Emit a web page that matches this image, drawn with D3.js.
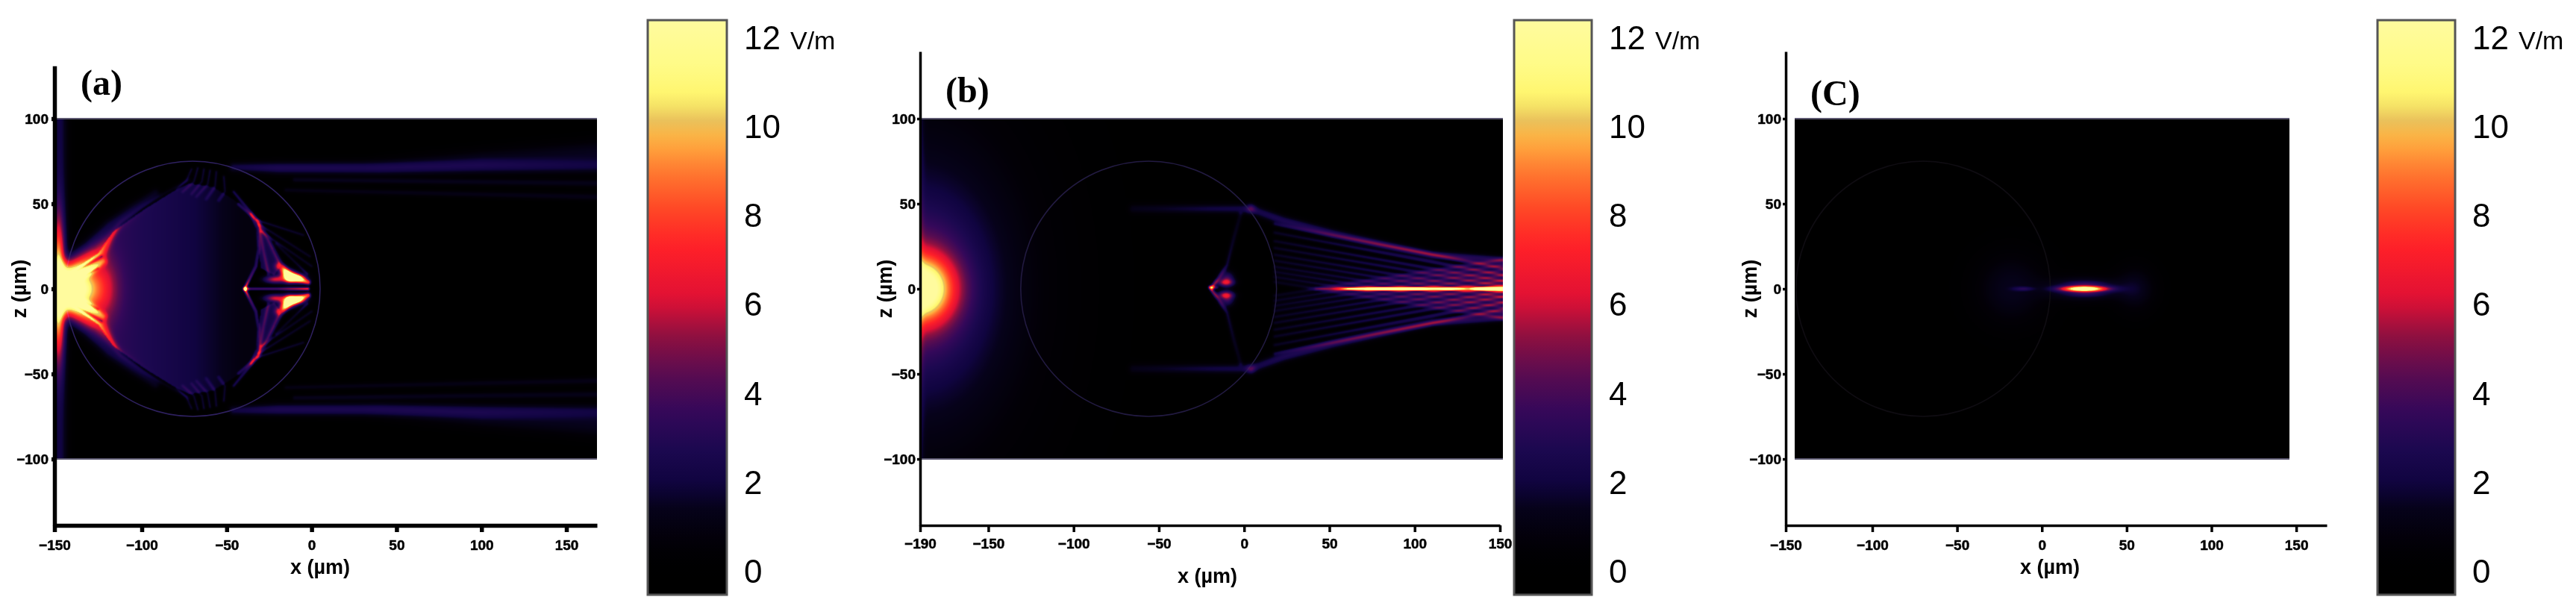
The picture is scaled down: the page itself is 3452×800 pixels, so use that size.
<!DOCTYPE html>
<html>
<head>
<meta charset="utf-8">
<script src="https://cdn.jsdelivr.net/npm/d3@7/dist/d3.min.js"></script>
<style>
  html, body { margin: 0; padding: 0; background: #fff; }
  #stage { position: relative; width: 3452px; height: 800px; overflow: hidden; }
  #stage canvas, #stage svg { position: absolute; left: 0; top: 0; }
  text { font-family: "Liberation Sans", Arial, sans-serif; fill: #000; }
</style>
</head>
<body>
<div id="stage"></div>
<script>
// Colour scale of the field magnitude, V/m
const colourValues = [0, 0.6, 1.4, 2, 2.75, 3.6, 4.45, 5.3, 6.1, 7.3, 8.1, 9, 9.7, 10.2, 10.6, 11.4, 12.4];
const colourStops = ["#000000", "#020006", "#06021a", "#100440", "#1c0850", "#35085a", "#5a0c50", "#901040",
  "#e01035", "#ff2028", "#ff4525", "#ff7a30", "#ffb040", "#e6c460", "#fff56a", "#fffb88", "#fffb9e"];
const colourTicks = [0, 2, 4, 6, 8, 10, 12];

const zTicks = [-100, -50, 0, 50, 100];
const xTicksA = [-150, -100, -50, 0, 50, 100, 150];
const xTicksB = [-190, -150, -100, -50, 0, 50, 100, 150];
const xTicksC = [-150, -100, -50, 0, 50, 100, 150];

// Blobs: [x, z, value, sigma x, sigma z]. Off-axis blobs are repeated at -z.
const blobsA = [
  [-148, 0, 11, 2.6, 26], [-139, 0, 10, 6.5, 8], [-126, 0, 4.4, 8, 13],
  [-13, 7, 4, 5, 2.6], [-22, 5.5, 5.5, 4.5, 1.6], [-9, 6.5, 6, 4, 1.4]
];
const blobsB = [
  [-190, 0, 9.5, 13, 13], [-190, 0, 3.5, 22, 30], [-190, 0, 2.2, 45, 70],
  [-11, 3.6, 4.5, 3.5, 1.5], [-10, -6, 3.6, 3, 3]
];
const blobsC = [
  [25, 0, 13, 9, 1.1], [25, 0, 2.7, 14, 4.5], [26, 3.2, 1.2, 7, 0.8],
  [-11, 0, 2.2, 4, 0.7], [-18, 0, 1.4, 14, 14], [55, 0, 1.4, 8, 9]
];

// Polylines on the axis: each point is [x, z, value, sigma]
const axisLinesA = [
  [[-147, 100, 2.1, 3], [-147, -100, 2.1, 3]],
  [[-39, 0, 10, 0.7], [-36, 0, 5, 0.5], [-20, 0, 5, 0.5], [-2, 0, 8, 0.6]]
];
const axisLinesB = [
  [[-190, 100, 1.2, 1.5], [-190, -100, 1.2, 1.5]],
  [[-20, 0.8, 8, 0.7], [-16, 0.8, 3, 0.6]],
  [[42, 0, 1.5, 0.6], [50, 0, 4, 0.6], [60, 0, 9, 0.6], [72, 0, 14, 0.6], [95, 0, 14, 0.6], [122, 0, 11, 0.6], [132, 0, 8.5, 0.6], [142, 0, 16, 0.7], [152, 0, 16, 0.7]]
];
const axisLinesC = [];

// Polylines in the upper half, repeated at -z
const linesA = [
  // bright wedge next to the focus
  [[-145, 6, 6.5, 3], [-135, 13, 6.5, 3.2], [-125, 21, 5, 3], [-118, 31, 3.2, 1.7], [-112, 39, 1.6, 1.1], [-100, 48, 1.2, 0.9], [-85, 57, 1, 0.9], [-72, 64, 1, 0.9]],
  [[-143, 3, 4, 1.4], [-130, 10, 4, 1.5], [-122, 16, 3, 1.4]],
  [[-143, 14, 3, 3], [-130, 24, 2.4, 3.2], [-118, 37, 2.1, 3], [-105, 47, 1.8, 2.5], [-92, 56, 1.5, 2]],
  [[-143, 7, -4, 0.5], [-123, 19, -4, 0.6]],
  [[-140, 4, -3, 0.4], [-125, 12, -3, 0.4]],
  // fringes below the top of the sphere
  [[-63.4, 70.3, 2.2, 0.55], [-64.6, 63, 2, 0.55], [-70.7, 55.7, 1.2, 0.55]],
  [[-59.8, 69.6, 2.2, 0.55], [-61.2, 61.5, 2, 0.55], [-67.8, 54.2, 1.2, 0.55]],
  [[-56.1, 68.8, 2.2, 0.55], [-56.9, 60, 2, 0.55], [-62, 52.8, 1.2, 0.55]],
  [[-67, 71, 2.2, 0.55], [-69.3, 63, 2, 0.55], [-75.9, 57, 1.2, 0.55]],
  [[-51.7, 65.9, 2.2, 0.55], [-51, 57.1, 2, 0.55], [-54.7, 52, 1.2, 0.55]],
  [[-70.7, 70.3, 2.1, 0.55], [-73.7, 63.7, 1.9, 0.55], [-79.5, 58.6, 1.1, 0.55]],
  // caustics on the far side of the sphere
  [[-45.9, 57, 2.5, 0.7], [-32.7, 41, 3.2, 0.8], [-25.4, 29.4, 2.6, 0.9], [-18.1, 14.7, 3, 1.1], [-12.3, 6.7, 6, 1.4]],
  [[-43, 49.8, 2.4, 0.6], [-31.3, 39.6, 2.6, 0.7], [-28.3, 22, 2, 0.7], [-25.4, 8.9, 2.6, 0.7]],
  [[-39.3, 0.1, 9, 0.5], [-36.4, 6, 4, 0.6], [-32.7, 13.3, 2.6, 0.7], [-31, 23.5, 2.4, 0.7], [-31.6, 35.2, 2.4, 0.7], [-35.7, 44, 2.4, 0.7]],
  [[-32, 40.3, 2.1, 0.6], [-4.9, 31.6, 1.9, 0.6]],
  [[-31, 38, 2, 0.6], [-1, 19, 1.8, 0.6]],
  [[-29.8, 33.8, 1.9, 0.6], [0, 13.3, 1.8, 0.6]],
  [[-21, 26.4, 1.6, 0.6], [-2.6, 8.9, 2, 0.6]],
  [[-19.6, 13.3, 4, 1.6], [-13, 7.4, 10, 2.2], [-2, 3.8, 8, 1]],
  // beams leaving the sphere
  [[-46, 71.5, 2.1, 2], [-20, 71, 2.7, 2.5], [40, 71, 2.6, 2.8], [100, 72, 2.2, 3], [168, 72, 1.7, 3]],
  [[30, 74, 0, 3], [100, 77, 1, 4], [168, 80, 1.4, 5]],
  [[-10, 64, 1.4, 1], [168, 62, 1.3, 1.5]],
  [[-15, 58, 1.2, 1], [168, 54, 1.2, 1.5]]
];
const linesB = [
  // weak beam inside the sphere and the arms of the cusp
  [[-65, 47, 1.2, 2], [-20, 47, 2, 2], [4, 47, 2.2, 2]],
  [[-19, 0.8, 6, 0.7], [-15, 6, 3, 0.8], [-10, 14, 2, 0.9], [-6, 30, 1.6, 1], [-2, 44, 1.2, 1]],
  // outermost ray behind the sphere
  [[4, 47, 2.3, 2], [23, 40, 2.7, 2], [52, 32.4, 2.9, 1.9], [81, 26, 3, 1.8], [110.5, 20, 3.1, 1.6], [151, 17, 3, 1.6]],
  // inner rays, crossing the axis at increasing distance
  [[18, 38, 1.7, 0.8], [152, 12, 3.2, 0.9]],
  [[18, 33, 1.7, 0.8], [152, 8, 3.2, 0.9]],
  [[18, 28, 1.7, 0.8], [152, 4.5, 3.2, 0.9]],
  [[18, 24, 1.7, 0.8], [152, 1.5, 3.2, 0.9]],
  [[18, 20, 1.7, 0.8], [152, -2, 3.2, 0.9]],
  [[18, 16.5, 1.7, 0.8], [152, -5, 3.2, 0.9]],
  [[18, 13, 1.7, 0.8], [152, -8, 3, 0.9]],
  [[18, 10, 1.7, 0.8], [152, -11, 3, 0.9]],
  [[18, 7, 1.7, 0.8], [152, -14, 2.8, 0.9]],
  [[18, 4, 1.5, 0.8], [152, -17, 2.6, 0.9]]
];
const linesC = [];

// Filled regions: polygon in the upper half plus [x, value] stops along x; repeated at -z
const regionsA = [
  {
    shape: [[-147, 0], [-143, 8], [-125, 21], [-116, 34], [-98, 47], [-82, 57], [-72, 62], [-58, 60], [-45, 52], [-34, 42], [-31, 28], [-32, 13], [-39, 0]],
    stops: [[-150, 3.4], [-118, 3.4], [-110, 3.1], [-100, 2.8], [-85, 2.45], [-70, 2.05], [-60, 1.7], [-50, 1.3], [-40, 0.9]]
  },
  {
    shape: [[-31, 22], [-31, 36], [-33, 41], [-25.4, 29], [-18, 14], [-22, 8], [-30, 12]],
    stops: [[-40, 2.2], [0, 2.2]]
  }
];

// One panel: scales run in micrometres, pixel ranges locate it on the page
const panels = [
  {
    label: "(a)", labelAt: [108, 127],
    xDomain: [-150, -100, 168], xRange: [73, 190, 800], xTicks: xTicksA,
    heatFrom: -150, heatTo: 168, axisTop: 131, axisWeight: 5.5, xLabelAt: [429, 769], xTickY: 20,
    zLabelX: 26, tickGap: 8,
    sphere: { x: -70, r: 75, stroke: "#2e2060" },
    bar: [868, 974], blobs: blobsA, axisLines: axisLinesA, lines: linesA, regions: regionsA
  },
  {
    label: "(b)", labelAt: [1267, 137],
    xDomain: [-190, 150], xRange: [1233, 2010], xTicks: xTicksB,
    heatFrom: -190, heatTo: 151.7, axisTop: 139.5, axisWeight: 3.5, xLabelAt: [1618, 781], xTickY: 18,
    zLabelX: 1186, tickGap: 6,
    sphere: { x: -56, r: 75, stroke: "#221a42" },
    bar: [2029, 2133], blobs: blobsB, axisLines: axisLinesB, lines: linesB, regions: []
  },
  {
    label: "(C)", labelAt: [2426, 141],
    xDomain: [-150, -100, 168], xRange: [2393, 2509, 3118], xTicks: xTicksC,
    heatFrom: -145, heatTo: 146, axisTop: 139.5, axisWeight: 3.5, xLabelAt: [2747, 769], xTickY: 20,
    zLabelX: 2345, tickGap: 6,
    sphere: { x: -70, r: 75, stroke: "#0f0c12" },
    bar: [3186, 3290], blobs: blobsC, axisLines: axisLinesC, lines: linesC, regions: []
  }
];

const stage = d3.select("#stage");
const colour = d3.scaleLinear().domain(colourValues).range(colourStops).interpolate(d3.interpolateRgb).clamp(true);
const barY = d3.scaleLinear().domain([0, 12]).range([765, 50]);

// Adds one polyline to the field, keeping the strongest segment at each pixel
function addLine(field, w, h, px, pz, pts, flip) {
  const tmp = new Float32Array(w * h);
  const sign = flip ? -1 : 1;
  for (let i = 0; i < pts.length - 1; i++) {
    const [x0, z0r, v0, s0] = pts[i], [x1, z1r, v1, s1] = pts[i + 1];
    const z0 = sign * z0r, z1 = sign * z1r;
    const reach = 3.5 * Math.max(s0, s1);
    const dx = x1 - x0, dz = z1 - z0, len2 = dx * dx + dz * dz || 1e-6;
    for (let j = 0; j < h; j++) {
      const z = pz[j];
      if (z < Math.min(z0, z1) - reach || z > Math.max(z0, z1) + reach) continue;
      for (let k = 0; k < w; k++) {
        const x = px[k];
        if (x < Math.min(x0, x1) - reach || x > Math.max(x0, x1) + reach) continue;
        const t = Math.max(0, Math.min(1, ((x - x0) * dx + (z - z0) * dz) / len2));
        const ex = x - (x0 + t * dx), ez = z - (z0 + t * dz);
        const s = s0 + t * (s1 - s0), v = v0 + t * (v1 - v0);
        const val = v * Math.exp(-(ex * ex + ez * ez) / (2 * s * s));
        const idx = j * w + k;
        if (Math.abs(val) > Math.abs(tmp[idx])) tmp[idx] = val;
      }
    }
  }
  for (let i = 0; i < tmp.length; i++) field[i] += tmp[i];
}

function smooth(field, w, h) {
  const kernel = [0.06, 0.24, 0.4, 0.24, 0.06];
  const a = new Float32Array(w * h), out = new Float32Array(w * h);
  for (let j = 0; j < h; j++) for (let k = 0; k < w; k++) {
    let sum = 0;
    for (let n = -2; n <= 2; n++) sum += kernel[n + 2] * field[j * w + Math.max(0, Math.min(w - 1, k + n))];
    a[j * w + k] = sum;
  }
  for (let j = 0; j < h; j++) for (let k = 0; k < w; k++) {
    let sum = 0;
    for (let n = -2; n <= 2; n++) sum += kernel[n + 2] * a[Math.max(0, Math.min(h - 1, j + n)) * w + k];
    out[j * w + k] = sum;
  }
  return out;
}

const lut = d3.range(0, 1301).map(i => d3.rgb(colour(i / 100)));

function drawHeat(p, x, y) {
  const left = Math.round(x(p.heatFrom)), right = Math.round(x(p.heatTo));
  const top = Math.round(y(100)), bottom = Math.round(y(-100));
  const w = right - left, h = bottom - top;
  const px = Float64Array.from({ length: w }, (_, k) => x.invert(left + k + 0.5));
  const pz = Float64Array.from({ length: h }, (_, j) => y.invert(top + j + 0.5));
  let field = new Float32Array(w * h);

  p.regions.forEach(r => {
    const level = d3.scaleLinear().domain(r.stops.map(s => s[0])).range(r.stops.map(s => s[1])).clamp(true);
    for (let j = 0; j < h; j++) for (let k = 0; k < w; k++) {
      if (d3.polygonContains(r.shape, [px[k], Math.abs(pz[j])])) field[j * w + k] += level(px[k]);
    }
  });
  p.blobs.forEach(([bx, bz, v, sx, sz]) => {
    const mirrors = bz === 0 ? [bz] : [bz, -bz];
    mirrors.forEach(cz => {
      for (let j = 0; j < h; j++) for (let k = 0; k < w; k++) {
        const ex = (px[k] - bx) / sx, ez = (pz[j] - cz) / sz;
        field[j * w + k] += v * Math.exp(-0.5 * (ex * ex + ez * ez));
      }
    });
  });
  p.axisLines.forEach(pts => addLine(field, w, h, px, pz, pts, false));
  p.lines.forEach(pts => {
    addLine(field, w, h, px, pz, pts, false);
    addLine(field, w, h, px, pz, pts, true);
  });
  field = smooth(field, w, h);

  const canvas = stage.append("canvas").attr("width", w).attr("height", h)
    .style("left", left + "px").style("top", top + "px").node();
  const ctx = canvas.getContext("2d");
  const img = ctx.createImageData(w, h);
  for (let i = 0; i < field.length; i++) {
    const c = lut[Math.max(0, Math.min(1300, Math.round(field[i] * 100)))];
    img.data[4 * i] = c.r; img.data[4 * i + 1] = c.g; img.data[4 * i + 2] = c.b; img.data[4 * i + 3] = 255;
  }
  ctx.putImageData(img, 0, 0);

  // sphere outline, only ever lightening the field beneath it
  ctx.globalCompositeOperation = "lighten";
  ctx.strokeStyle = p.sphere.stroke;
  ctx.lineWidth = 1.5;
  ctx.beginPath();
  ctx.ellipse(x(p.sphere.x) - left, y(0) - top,
    Math.abs(x(p.sphere.x + p.sphere.r) - x(p.sphere.x)), Math.abs(y(p.sphere.r) - y(0)), 0, 0, 2 * Math.PI);
  ctx.stroke();
  return { left, right, top, bottom };
}

const scales = panels.map(p => ({
  x: d3.scaleLinear().domain(p.xDomain).range(p.xRange),
  y: d3.scaleLinear().domain([-139, p.axisTop]).range([704, 387 - 2.28 * p.axisTop])
}));
const extents = panels.map((p, i) => drawHeat(p, scales[i].x, scales[i].y));

const svg = stage.append("svg").attr("width", 3452).attr("height", 800);
const defs = svg.append("defs");
const gradient = defs.append("linearGradient").attr("id", "bar-gradient")
  .attr("x1", 0).attr("x2", 0).attr("y1", 1).attr("y2", 0);
const barTop = 27, barBottom = 797;
d3.range(0, 41).forEach(i => {
  const t = i / 40, v = barY.invert(barBottom + t * (barTop - barBottom));
  gradient.append("stop").attr("offset", t).attr("stop-color", colour(v));
});

panels.forEach((p, i) => {
  const { x, y } = scales[i], e = extents[i];
  const g = svg.append("g");

  // rim of the plotted field
  g.selectAll("line.rim").data([100, -100]).join("line").attr("class", "rim")
    .attr("x1", e.left).attr("x2", e.right)
    .attr("y1", d => y(d)).attr("y2", d => y(d))
    .attr("stroke", "#5c5870").attr("stroke-width", 2);

  // axes
  const xAxis = g.append("g").attr("transform", `translate(0,${y(-139)})`)
    .call(d3.axisBottom(x).tickValues(p.xTicks).tickSize(9).tickSizeOuter(0).tickFormat(d3.format("d")));
  const yAxis = g.append("g").attr("transform", `translate(${x(p.xDomain[0])},0)`)
    .call(d3.axisLeft(y).tickValues(zTicks).tickSize(4).tickSizeOuter(0).tickFormat(d3.format("d")));
  [xAxis, yAxis].forEach(a => {
    a.attr("font-family", null).attr("font-size", null);
    a.select(".domain").attr("stroke", "#000").attr("stroke-width", p.axisWeight);
    a.selectAll(".tick line").attr("stroke", "#000").attr("stroke-width", p.axisWeight);
    a.selectAll(".tick text").attr("fill", "#000").attr("stroke", "#000").attr("stroke-width", 0.5)
      .style("font-size", "19px").style("font-weight", "700");
  });
  xAxis.selectAll(".tick text").attr("y", p.xTickY);
  yAxis.selectAll(".tick text").attr("x", -p.tickGap);

  g.append("text").attr("x", p.xLabelAt[0]).attr("y", p.xLabelAt[1]).attr("text-anchor", "middle")
    .style("font-size", "27px").style("font-weight", "700").text("x (µm)");
  g.append("text").attr("transform", `translate(${p.zLabelX + 9},${y(0)}) rotate(-90)`).attr("text-anchor", "middle")
    .style("font-size", "27px").style("font-weight", "700").text("z (µm)");
  g.append("text").attr("x", p.labelAt[0]).attr("y", p.labelAt[1])
    .style("font-family", '"Liberation Serif", serif').style("font-size", "48px").style("font-weight", "700").text(p.label);

  // colour bar
  g.append("rect").attr("x", p.bar[0]).attr("y", barTop).attr("width", p.bar[1] - p.bar[0]).attr("height", barBottom - barTop)
    .attr("fill", "url(#bar-gradient)").attr("stroke", "#555").attr("stroke-width", 3);
  const labels = g.selectAll("text.bar-tick").data(colourTicks).join("text").attr("class", "bar-tick")
    .attr("x", p.bar[1] + 23).attr("y", d => barY(d)).attr("dy", "0.36em")
    .style("font-size", "44px");
  labels.append("tspan").text(d => d);
  labels.filter(d => d === 12).append("tspan").attr("dx", 13).style("font-size", "34px").text("V/m");
});
</script>
</body>
</html>
